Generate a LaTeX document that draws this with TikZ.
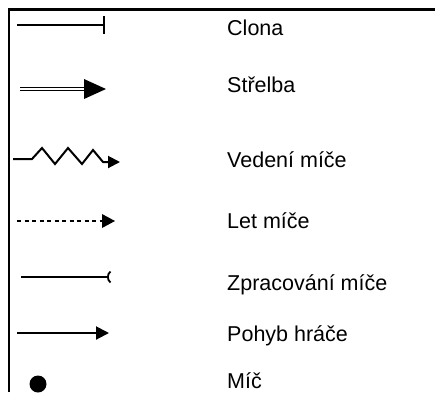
\documentclass[tikz,border=0pt]{standalone}
\usepackage{fontspec}
\setmainfont{Liberation Sans}
\usetikzlibrary{arrows.meta}

\begin{document}
\begin{tikzpicture}[x=1pt,y=-1pt,
    symbol/.style={line width=2pt},
    headtip/.style={-{Triangle[length=#1pt,width=#1pt]}},
    legendtext/.style={anchor=base west, inner sep=0pt, font=\fontsize{21.5}{24}\selectfont}]
        \useasboundingbox (0,0) rectangle (435,392);
        % frame (cut off at the right and bottom)
        \draw[line width=2.8pt] (9,392) -- (9,9.5) -- (435,9.5);

        % clona
        \coordinate (clonaA) at (17,25);
        \coordinate (clonaB) at (104,25);
        \draw[symbol] (clonaA) -- (clonaB);
        \draw[symbol] ([yshift=-8.5]clonaB) -- ([yshift=9]clonaB);
        \node[legendtext] (clona) at (227,35) {Clona};

        % strelba: double shaft + big head
        \coordinate (strelbaA) at (20,89);
        \coordinate (strelbaB) at (86,89);
        \draw[line width=1.4pt, double, double distance=1.6pt] (strelbaA) -- (strelbaB);
        \fill (84,79) -- (106,89) -- (84,99) -- cycle;
        \node[legendtext] (strelba) at (227,92) {Střelba};

        % vedeni mice
        \coordinate (vedeniA) at (13,159);
        \coordinate (vedeniB) at (120,162);
        \draw[symbol, line join=miter, headtip=12] (vedeniA) -- (32,159) -- (42,148) -- (55,164)
            -- (68,148) -- (82,164) -- (93,150) -- (103,162) -- (vedeniB);
        \node[legendtext] (vedeni) at (227,167) {Vedení míče};

        % let mice
        \coordinate (letA) at (17,221);
        \coordinate (letB) at (102,221);
        \draw[symbol, dash pattern=on 4pt off 3.5pt] (letA) -- (letB);
        \fill (102,214) -- (115,221) -- (102,228) -- cycle;
        \node[legendtext] (let) at (227,228) {Let míče};

        % zpracovani mice
        \coordinate (zpracA) at (21,277);
        \coordinate (zpracB) at (108,277);
        \draw[symbol] (zpracA) -- (zpracB);
        \draw[line width=1.8pt] (110.5,271.5) .. controls (107,274) and (107,280) .. (110.5,282.5);
        \node[legendtext] (zprac) at (227,290) {Zpracování míče};

        % pohyb hrace
        \coordinate (pohybA) at (17,333);
        \coordinate (pohybB) at (109,333);
        \draw[symbol, headtip=13] (pohybA) -- (pohybB);
        \node[legendtext] (pohyb) at (227,341) {Pohyb hráče};

        % mic
        \fill (38,384) circle (8.5);
        \node[legendtext] (mic) at (227,388.5) {Míč};
\end{tikzpicture}
\end{document}
